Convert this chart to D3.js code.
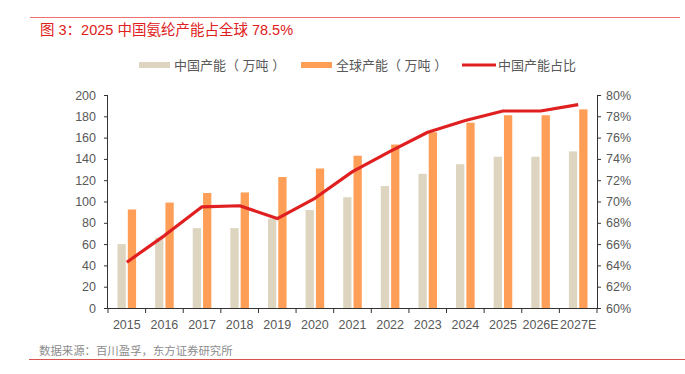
<!DOCTYPE html>
<html>
<head>
<meta charset="utf-8">
<script src="https://d3js.org/d3.v7.min.js"></script>
<style>
    body { margin: 0; background: #fff; }
    svg { display: block; font-family: "Liberation Sans", "Noto Sans CJK SC", Arial, sans-serif; }
    .axis text { fill: #595959; font-size: 12.5px; }
    .axis path, .axis line { stroke: #333; }
</style>
</head>
<body>
<div id="chart"></div>
<script>
    const years = ["2015","2016","2017","2018","2019","2020","2021","2022","2023","2024","2025","2026E","2027E"];
    const chinaCap = [60, 66, 75, 75, 84, 92, 104, 114.5, 126, 135, 142, 142, 147];
    const globalCap = [92.5, 99, 108, 108.5, 123, 131, 143, 153.5, 165, 174, 181, 181, 186.5];
    const chinaShare = [64.3, 66.8, 69.5, 69.6, 68.4, 70.3, 72.8, 74.7, 76.5, 77.6, 78.5, 78.5, 79.1];
    const leftTicks = [0, 20, 40, 60, 80, 100, 120, 140, 160, 180, 200];
    const rightTicks = [60, 62, 64, 66, 68, 70, 72, 74, 76, 78, 80];

    const width = 685, height = 374;
    const m = { left: 108, right: 597, top: 95, bottom: 308 };

    const svg = d3.select("#chart").append("svg")
        .attr("width", width).attr("height", height);

    // frame lines + title
    svg.append("line").attr("x1", 30).attr("x2", 680).attr("y1", 17.5).attr("y2", 17.5)
        .attr("stroke", "#f07070").attr("stroke-width", 1.2);
    svg.append("text").attr("x", 40).attr("y", 34.5)
        .attr("fill", "#e02020").attr("font-size", "14.5px")
        .text("图 3：2025 中国氨纶产能占全球 78.5%");
    svg.append("line").attr("x1", 29).attr("x2", 685).attr("y1", 359.5).attr("y2", 359.5)
        .attr("stroke", "#d9534f").attr("stroke-width", 1);
    svg.append("text").attr("x", 39).attr("y", 355)
        .attr("fill", "#8c8c8c").attr("font-size", "11.4px")
        .text("数据来源：百川盈孚，东方证券研究所");

    const x = d3.scaleBand().domain(years).range([m.left, m.right]);
    const y = d3.scaleLinear().domain([0, 200]).range([m.bottom, m.top]);
    const y2 = d3.scaleLinear().domain([60, 80]).range([m.bottom, m.top]);

    const bw = 8.3, gap = 2;
    const data = years.map((yr, i) => ({ yr, c: chinaCap[i], g: globalCap[i], s: chinaShare[i] }));

    svg.selectAll(".barC").data(data).join("rect")
        .attr("x", d => x(d.yr) + x.bandwidth() / 2 - gap / 2 - bw)
        .attr("y", d => y(d.c))
        .attr("width", bw)
        .attr("height", d => m.bottom - y(d.c))
        .attr("fill", "#ddd5bf");
    svg.selectAll(".barG").data(data).join("rect")
        .attr("x", d => x(d.yr) + x.bandwidth() / 2 + gap / 2)
        .attr("y", d => y(d.g))
        .attr("width", bw)
        .attr("height", d => m.bottom - y(d.g))
        .attr("fill", "#ff9f57");

    // axes
    svg.append("g").attr("class", "axis")
        .attr("transform", `translate(${m.left},0)`)
        .call(d3.axisLeft(y).tickValues(leftTicks).tickSize(4).tickPadding(8))
        .call(g => g.select(".domain").attr("d", `M-0.5,${m.top}V${m.bottom}`));
    svg.append("g").attr("class", "axis")
        .attr("transform", `translate(${m.right},0)`)
        .call(d3.axisRight(y2).tickValues(rightTicks).tickSize(4).tickPadding(5).tickFormat(d => d + "%"))
        .call(g => g.select(".domain").attr("d", `M0.5,${m.top}V${m.bottom}`));

    const xa = svg.append("g").attr("class", "axis")
        .attr("transform", `translate(0,${m.bottom})`);
    xa.append("line").attr("x1", m.left - 4).attr("x2", m.right + 4).attr("y1", 0.5).attr("y2", 0.5).attr("stroke", "#333");
    xa.selectAll(".tk").data(years.concat(["end"])).join("line")
        .attr("x1", (d, i) => m.left + i * x.step()).attr("x2", (d, i) => m.left + i * x.step())
        .attr("y1", 0).attr("y2", 5).attr("stroke", "#333");
    xa.selectAll(".lb").data(years).join("text")
        .attr("x", d => x(d) + x.bandwidth() / 2).attr("y", 21)
        .attr("text-anchor", "middle").text(d => d);

    // share line
    const line = d3.line().x(d => x(d.yr) + x.bandwidth() / 2).y(d => y2(d.s));
    svg.append("path").datum(data).attr("d", line)
        .attr("fill", "none").attr("stroke", "#e02020").attr("stroke-width", 3.2)
        .attr("stroke-linejoin", "round");

    // legend
    const lg = svg.append("g").attr("font-size", "13px").attr("fill", "#595959");
    const items = [
        { label: "中国产能（ 万吨 ）", x: 139, type: "bar", color: "#ddd5bf" },
        { label: "全球产能（ 万吨 ）", x: 301, type: "bar", color: "#ff9f57" },
        { label: "中国产能占比", x: 462, type: "line", color: "#e02020" }
    ];
    items.forEach(it => {
        if (it.type === "bar") {
            lg.append("rect").attr("x", it.x).attr("y", 62).attr("width", 31).attr("height", 6).attr("fill", it.color);
        } else {
            lg.append("line").attr("x1", it.x).attr("x2", it.x + 34).attr("y1", 65).attr("y2", 65)
                .attr("stroke", it.color).attr("stroke-width", 3.2);
        }
        lg.append("text").attr("x", it.x + (it.type === "bar" ? 35 : 36)).attr("y", 69.5).text(it.label);
    });
</script>
</body>
</html>
